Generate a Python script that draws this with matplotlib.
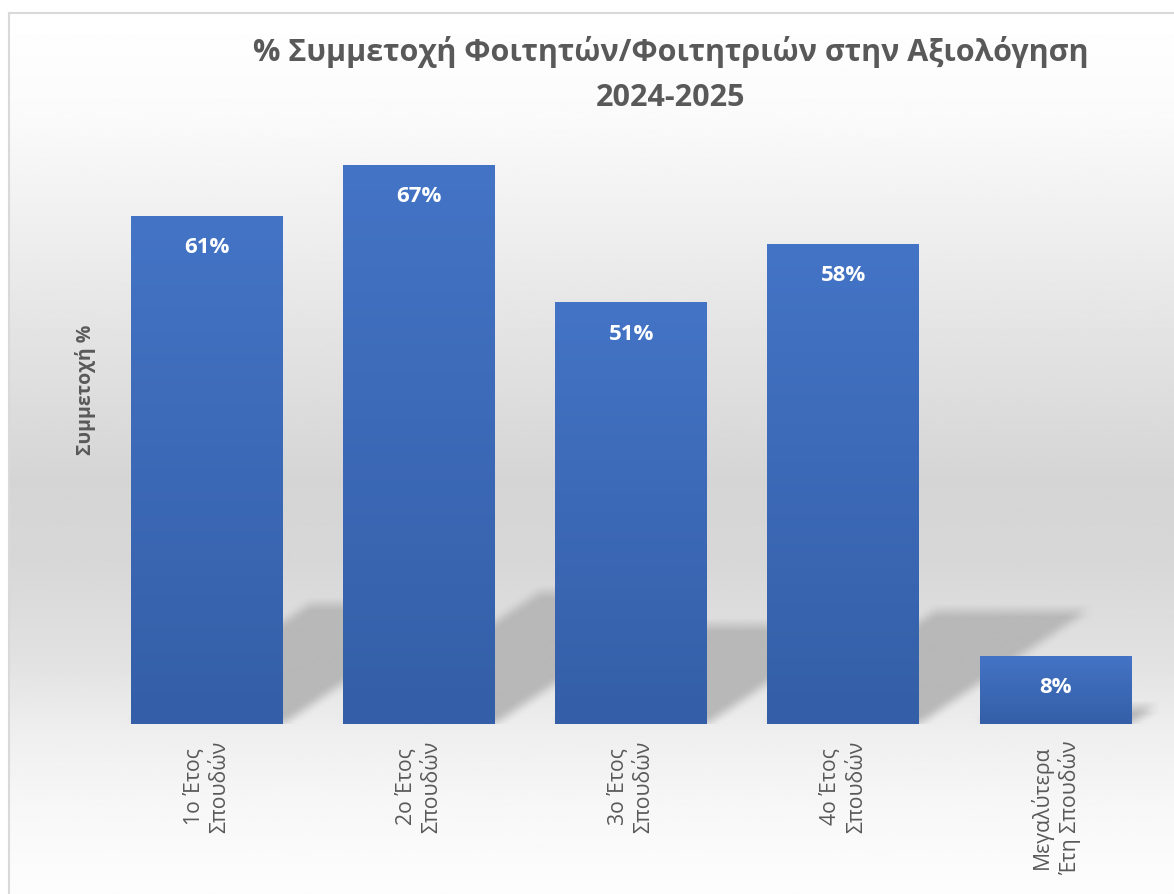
import numpy as np
import matplotlib
matplotlib.use("Agg")
import matplotlib.pyplot as plt
from matplotlib.colors import LinearSegmentedColormap

plt.rcParams['font.family'] = ['Open Sans', 'DejaVu Sans']

# data
categories = ["1ο Έτος\nΣπουδών", "2ο Έτος\nΣπουδών", "3ο Έτος\nΣπουδών",
              "4ο Έτος\nΣπουδών", "Μεγαλύτερα\nΈτη Σπουδών"]
values = [61.0, 67.1, 50.6, 57.6, 8.2]
title_line1 = "% Συμμετοχή Φοιτητών/Φοιτητριών στην Αξιολόγηση"
title_line2 = "2024-2025"
ylabel = "Συμμετοχή %"

TEXT_GRAY = "#595959"
BAR_TOP = "#4474C6"
BAR_BOTTOM = "#345EA7"
SHADOW = "#B8B8B8"

W, H = 1174, 895
fig = plt.figure(figsize=(W / 100, H / 100), dpi=100)

# background gradient of the chart area (white -> grey -> white)
bg_ax = fig.add_axes([9 / W, 0, 1 - 9 / W, 1 - 14 / H])
bg_ax.set_axis_off()
stops_y = [0, 0.12, 0.24, 0.37, 0.53, 0.62, 0.73, 0.82, 0.9, 1.0]
stops_v = [255, 250, 239, 227, 213, 215, 225, 239, 247, 253]
ys = np.linspace(0, 1, 400)
grad = np.interp(ys, stops_y, stops_v) / 255.0
bg_ax.imshow(np.repeat(grad[:, None], 2, axis=1), cmap="gray", vmin=0, vmax=1,
             aspect="auto", extent=(0, 1, 1, 0))
bg_ax.set_xlim(0, 1)
bg_ax.set_ylim(1, 0)
fig.add_artist(plt.Line2D([9 / W, 9 / W], [0, 1 - 14 / H], color="#D9D9D9", lw=1.5))
fig.add_artist(plt.Line2D([9 / W, 1], [1 - 14 / H, 1 - 14 / H], color="#D9D9D9", lw=1.5))

# main axes
ax = fig.add_axes([101 / W, 170 / H, 1060.6 / W, 583.3 / H])
ax.patch.set_alpha(0)
x = np.arange(len(values))
ymax = 70
ax.set_xlim(-0.5, len(values) - 0.5)
ax.set_ylim(0, ymax)
width = 0.716

# perspective shadows behind the bars
nx, ny = 1060, 583
gx = np.linspace(-0.5, len(values) - 0.5, nx)
gy = np.linspace(0, ymax, ny)
XX, YY = np.meshgrid(gx, gy)
mask = np.zeros((ny, nx))
skew = 0.0585  # data-x shift per data-y of shadow
for xi, v in zip(x, values):
    dy = 0.235 * v
    left = xi - width / 2 + YY * skew
    right = xi + width / 2 + YY * skew
    inside = (YY <= dy) & (XX >= left) & (XX <= right)
    mask[inside] = 1.0

def box_blur(a, k):
    kern = np.ones(k) / k
    a = np.apply_along_axis(lambda r: np.convolve(r, kern, mode="same"), 1, a)
    a = np.apply_along_axis(lambda c: np.convolve(c, kern, mode="same"), 0, a)
    return a

mask = box_blur(mask, 13)
rgba = np.zeros((ny, nx, 4))
rgba[..., :3] = np.array(matplotlib.colors.to_rgb(SHADOW))
rgba[..., 3] = mask
ax.imshow(rgba, origin="lower", aspect="auto",
          extent=(gx[0], gx[-1], 0, ymax), zorder=1, interpolation="bilinear")

# bars with vertical gradient
bars = ax.bar(x, values, width=width, color=BAR_BOTTOM, zorder=2)
cmap = LinearSegmentedColormap.from_list("bar", [BAR_BOTTOM, BAR_TOP])
for b in bars:
    x0, y0 = b.get_x(), b.get_y()
    im = ax.imshow(np.linspace(0, 1, 256)[:, None], cmap=cmap, origin="lower",
                   aspect="auto", extent=(x0, x0 + b.get_width(), y0, y0 + b.get_height()),
                   zorder=3)
    im.set_clip_path(b)

for xi, v in zip(x, values):
    ax.text(xi, v - 3.7, f"{v:.0f}%", ha="center", va="center", color="white",
            fontsize=16, fontweight="bold", zorder=4)

ax.set_xlim(-0.5, len(values) - 0.5)
ax.set_ylim(0, ymax)
ax.set_xticks(x)
ax.set_xticklabels(categories, rotation=90, ha="center", va="top",
                   multialignment="center", fontsize=15.3, color=TEXT_GRAY,
                   linespacing=1.3)
ax.tick_params(axis="x", length=0, pad=11)
ax.set_yticks([])
for s in ax.spines.values():
    s.set_visible(False)

fig.text(85 / W, 1 - 390 / H, ylabel, rotation=90, ha="center", va="center",
         fontsize=14, fontweight="bold", color=TEXT_GRAY)
fig.text(671 / W, 1 - 52 / H, title_line1, ha="center", va="center",
         fontsize=22, fontweight="bold", color=TEXT_GRAY)
fig.text(671 / W, 1 - 98 / H, title_line2, ha="center", va="center",
         fontsize=22, fontweight="bold", color=TEXT_GRAY)

fig.savefig("out.png", dpi=100)
